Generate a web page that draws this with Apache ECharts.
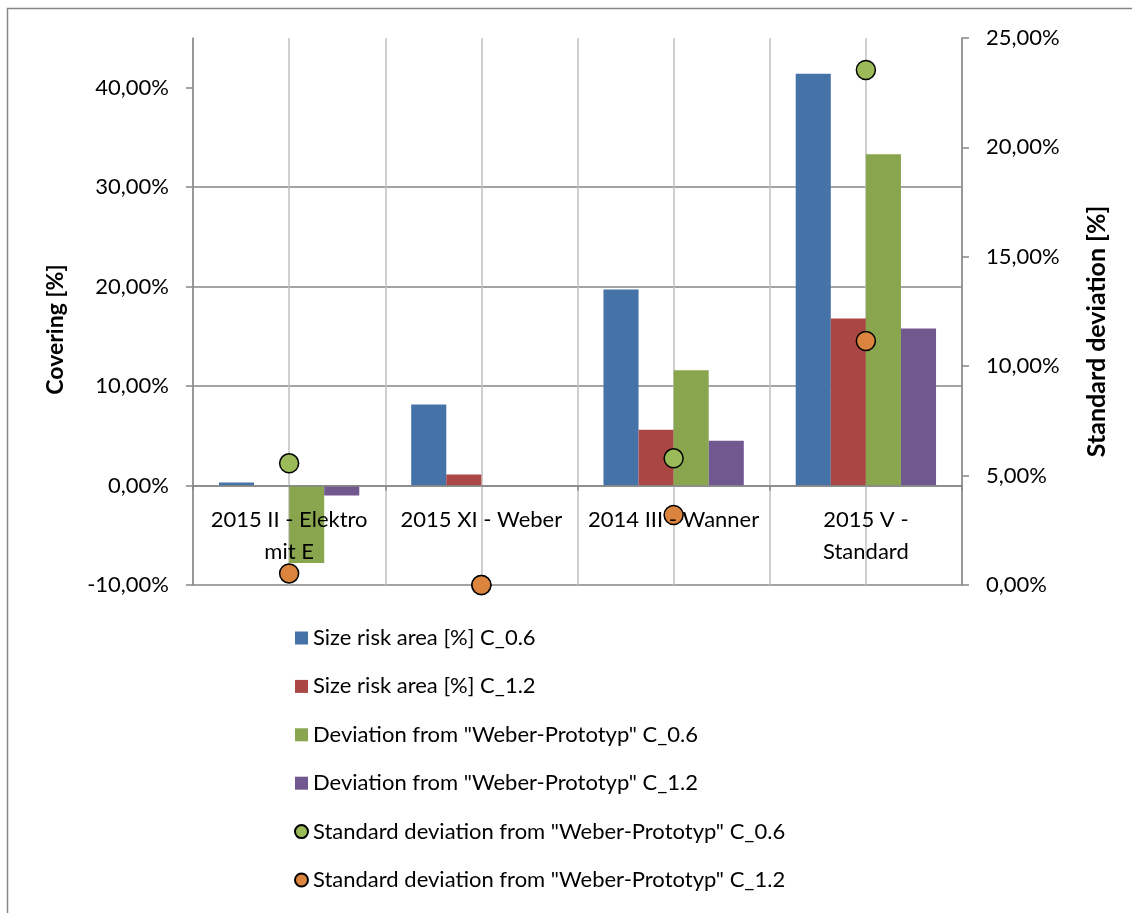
<!DOCTYPE html>
<html>
<head>
<meta charset="utf-8">
<script src="https://cdn.jsdelivr.net/npm/echarts@6/dist/echarts.min.js"></script>
<style>
html, body { margin: 0; background: #fff; }
#chart { width: 1132px; height: 913px; }
</style>
</head>
<body>
<div id="chart"></div>
<script>
// category labels (wrapped as in the original)
const categories = ['2015 II - Elektro\nmit E', '2015 XI - Weber', '2014 III - Wanner', '2015 V -\nStandard']

// bars, left axis (%)
const sizeRisk06 = [0.3, 8.15, 19.7, 41.4]
const sizeRisk12 = [0, 1.1, 5.6, 16.8]
const devWeber06 = [-7.8, 0, 11.6, 33.3]
const devWeber12 = [-1.0, 0, 4.5, 15.8]

// markers, right axis (%)
const stdWeber06 = [5.56, 0, 5.79, 23.54]
const stdWeber12 = [0.53, 0, 3.2, 11.15]

const leftTicks = [-10, 0, 10, 20, 30, 40]
const rightTicks = [0, 5, 10, 15, 20, 25]

const FONT = 'Lato'
const GRID = '#868686'
const pct = v => v.toFixed(2).replace('.', ',') + '%'

const chart = echarts.init(document.getElementById('chart'))

const bar = (name, data, color) => ({
  name, type: 'bar', data,
  barGap: '0%', barCategoryGap: '27%',
  itemStyle: { color }
})
const dot = (name, data, color) => ({
  name, type: 'scatter', yAxisIndex: 1, data,
  symbol: 'circle', symbolSize: 19, z: 5,
  itemStyle: { color, borderColor: '#000', borderWidth: 1.5, opacity: 1 }
})

chart.setOption({
  animation: false,
  textStyle: { fontFamily: FONT, color: '#000' },
  graphic: [{
    type: 'rect', shape: { x: 7.5, y: 8.5, width: 1200, height: 1000 },
    style: { fill: 'none', stroke: GRID, lineWidth: 1.5 }, silent: true
  }],
  grid: { left: 193, right: 170, top: 38, bottom: 328, containLabel: false },
  legend: {
    orient: 'vertical', left: 294, top: 627, padding: 0,
    itemWidth: 13, itemHeight: 13, itemGap: 26.4,
    textStyle: { fontFamily: FONT, fontSize: 22, color: '#000' },
    data: [
      { name: 'Size risk area [%] C_0.6', icon: 'rect' },
      { name: 'Size risk area [%] C_1.2', icon: 'rect' },
      { name: 'Deviation from "Weber-Prototyp" C_0.6', icon: 'rect' },
      { name: 'Deviation from "Weber-Prototyp" C_1.2', icon: 'rect' },
      { name: 'Standard deviation from "Weber-Prototyp" C_0.6', icon: 'circle' },
      { name: 'Standard deviation from "Weber-Prototyp" C_1.2', icon: 'circle' }
    ]
  },
  xAxis: [
    {
      // category axis crosses the left axis at 0, labels drawn over the bars
      type: 'category', data: categories, position: 'bottom', offset: -99.5, z: 10,
      axisLine: { onZero: false, lineStyle: { color: GRID, width: 1.5 } },
      axisTick: { show: true, interval: 0, length: 5, lineStyle: { color: GRID, width: 1.5 } },
      axisLabel: { interval: 0, fontFamily: FONT, fontSize: 22, lineHeight: 32, margin: 18, color: '#000' },
      splitLine: { show: false }
    },
    {
      // half-category vertical gridlines
      type: 'value', position: 'top', min: 0, max: 4, interval: 0.5,
      axisLine: { show: false }, axisTick: { show: false }, axisLabel: { show: false },
      splitLine: { show: true, lineStyle: { color: '#c0c0c0', width: 1.5 } }
    }
  ],
  yAxis: [
    {
      type: 'value', min: -10, max: 45, interval: 10,
      name: 'Covering [%]', nameLocation: 'middle', nameRotate: 90, nameGap: 126,
      nameTextStyle: { fontFamily: FONT, fontSize: 23, fontWeight: 'bold', color: '#000', padding: [0, 36, 0, 0] },
      axisLine: { show: true, onZero: false, lineStyle: { color: GRID, width: 1.5 } },
      axisTick: { show: true, length: 7, customValues: leftTicks, lineStyle: { color: GRID, width: 1.5 } },
      axisLabel: { customValues: leftTicks, formatter: pct, fontFamily: FONT, fontSize: 22, margin: 24, color: '#000' },
      splitLine: { show: true, showMaxLine: false, lineStyle: { color: GRID, width: 1.5 } }
    },
    {
      type: 'value', min: 0, max: 25, interval: 5, position: 'right',
      name: 'Standard deviation [%]', nameLocation: 'middle', nameRotate: 90, nameGap: 122,
      nameTextStyle: { fontFamily: FONT, fontSize: 25, fontWeight: 'bold', color: '#000', padding: [0, 40, 0, 0] },
      axisLine: { show: true, onZero: false, lineStyle: { color: GRID, width: 1.5 } },
      axisTick: { show: true, length: 7, customValues: rightTicks, lineStyle: { color: GRID, width: 1.5 } },
      axisLabel: { customValues: rightTicks, formatter: pct, fontFamily: FONT, fontSize: 22, margin: 24, color: '#000' },
      splitLine: { show: false }
    }
  ],
  series: [
    bar('Size risk area [%] C_0.6', sizeRisk06, '#4572A7'),
    bar('Size risk area [%] C_1.2', sizeRisk12, '#AA4643'),
    bar('Deviation from "Weber-Prototyp" C_0.6', devWeber06, '#89A54E'),
    bar('Deviation from "Weber-Prototyp" C_1.2', devWeber12, '#71588F'),
    dot('Standard deviation from "Weber-Prototyp" C_0.6', stdWeber06, '#9BBB59'),
    dot('Standard deviation from "Weber-Prototyp" C_1.2', stdWeber12, '#DB843D')
  ]
})
</script>
</body>
</html>
